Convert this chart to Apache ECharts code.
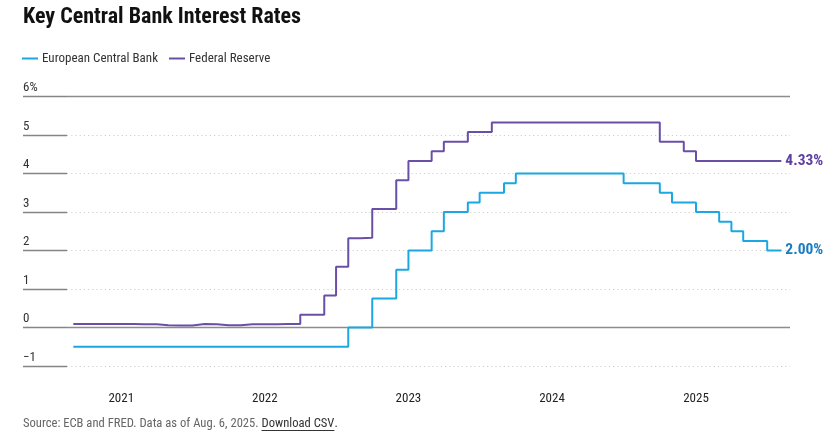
<!DOCTYPE html>
<html>
<head>
<meta charset="utf-8">
<script src="https://cdn.jsdelivr.net/npm/echarts@6/dist/echarts.min.js"></script>
<style>
html,body{margin:0;padding:0;background:#fff;}
#chart{width:839px;height:441px;}
</style>
</head>
<body>
<div id="chart"></div>
<script>
// ---- Data (first-of-month policy rates, %) ----
const months = [
  '2020-09-01','2020-10-01','2020-11-01','2020-12-01',
  '2021-01-01','2021-02-01','2021-03-01','2021-04-01','2021-05-01','2021-06-01','2021-07-01','2021-08-01','2021-09-01','2021-10-01','2021-11-01','2021-12-01',
  '2022-01-01','2022-02-01','2022-03-01','2022-04-01','2022-05-01','2022-06-01','2022-07-01','2022-08-01','2022-09-01','2022-10-01','2022-11-01','2022-12-01',
  '2023-01-01','2023-02-01','2023-03-01','2023-04-01','2023-05-01','2023-06-01','2023-07-01','2023-08-01','2023-09-01','2023-10-01','2023-11-01','2023-12-01',
  '2024-01-01','2024-02-01','2024-03-01','2024-04-01','2024-05-01','2024-06-01','2024-07-01','2024-08-01','2024-09-01','2024-10-01','2024-11-01','2024-12-01',
  '2025-01-01','2025-02-01','2025-03-01','2025-04-01','2025-05-01','2025-06-01','2025-07-01','2025-08-01','2025-08-06'
];
const ecbRates = [
  -0.5,-0.5,-0.5,-0.5,
  -0.5,-0.5,-0.5,-0.5,-0.5,-0.5,-0.5,-0.5,-0.5,-0.5,-0.5,-0.5,
  -0.5,-0.5,-0.5,-0.5,-0.5,-0.5,-0.5,0,0,0.75,0.75,1.5,
  2,2,2.5,3,3,3.25,3.5,3.5,3.75,4,4,4,
  4,4,4,4,4,4,3.75,3.75,3.75,3.5,3.25,3.25,
  3,3,2.75,2.5,2.25,2.25,2,2,2
];
const fedRates = [
  0.09,0.09,0.09,0.09,
  0.09,0.08,0.08,0.06,0.05,0.05,0.09,0.08,0.06,0.06,0.08,0.08,
  0.08,0.09,0.09,0.33,0.33,0.83,1.58,2.32,2.33,3.08,3.08,3.83,
  4.33,4.33,4.58,4.83,4.83,5.08,5.08,5.33,5.33,5.33,5.33,5.33,
  5.33,5.33,5.33,5.33,5.33,5.33,5.33,5.33,5.33,4.83,4.83,4.58,
  4.33,4.33,4.33,4.33,4.33,4.33,4.33,4.33,4.33
];
const seriesNames = ['European Central Bank','Federal Reserve'];
const yTickValues = [-1,0,1,2,3,4,5,6];
const yTickLabels = ['\u22121','0','1','2','3','4','5','6%'];
const xTickLabels = ['2021','2022','2023','2024','2025'];

// ---- Styles ----
const FONT = "'Liberation Sans Narrow','Roboto Condensed','DejaVu Sans Condensed','Liberation Sans',sans-serif";
const ECB_LINE = '#1ba8e2', ECB_LABEL = '#1a7cc0';
const FED_LINE = '#6a4fa7', FED_LABEL = '#5e3f9f';

const chart = echarts.init(document.getElementById('chart'), null, {renderer:'canvas'});

function measure(text, size, weight){
  const c = document.createElement('canvas').getContext('2d');
  c.font = (weight||'normal') + ' ' + size + 'px ' + FONT;
  return c.measureText(text).width;
}
const srcA = 'Source: ECB and FRED. Data as of Aug. 6, 2025. ';
const srcB = 'Download CSV';
const srcFont = 12.6;
const wA = measure(srcA, srcFont), wB = measure(srcB, srcFont);
const srcLeft = 23, srcTop = 417.5;

const gridTop = 96.7, gridBottom = 75.1;

const option = {
  animation: false,
  backgroundColor: '#fff',
  title: {
    text: 'Key Central Bank Interest Rates',
    left: 23, top: 6.5, padding: 0,
    textStyle: {fontFamily: FONT, fontWeight: 'bold', fontSize: 22, color: '#111'}
  },
  legend: {
    left: 22, top: 52, padding: 0, itemGap: 11,
    itemWidth: 16, itemHeight: 2, icon: 'rect',
    data: [{name: seriesNames[0], itemStyle:{color: ECB_LINE}}, {name: seriesNames[1], itemStyle:{color: FED_LINE}}],
    textStyle: {fontFamily: FONT, fontSize: 13, color: '#333', padding: [0,0,0,-1]}
  },
  grid: [
    {left: 23, width: 44, top: gridTop, bottom: gridBottom},
    {left: 67, right: 49, top: gridTop, bottom: gridBottom}
  ],
  xAxis: [
    {gridIndex: 0, type: 'value', min: 0, max: 1, show: false},
    {
      gridIndex: 1, type: 'time', min: '2020-08-16', max: '2025-08-28',
      minInterval: 365*24*3600*1000, maxInterval: 366*24*3600*1000,
      axisLine: {show: false}, axisTick: {show: false}, splitLine: {show: false},
      axisLabel: {
        margin: 26, fontFamily: FONT, fontSize: 13, color: '#222',
        hideOverlap: false,
        formatter: function(v){
          const d = new Date(v);
          const y = String(d.getFullYear());
          return (d.getMonth() === 0 && d.getDate() === 1 && xTickLabels.indexOf(y) >= 0) ? y : '';
        }
      }
    }
  ],
  yAxis: [
    {
      gridIndex: 0, type: 'value', min: -1, max: 6, interval: 1,
      axisLine: {show: false}, axisTick: {show: false},
      splitLine: {show: true, lineStyle: {color: '#858585', width: 1.4, type: 'solid'}},
      axisLabel: {
        inside: true, margin: 0, align: 'left', verticalAlign: 'bottom',
        padding: [0,0,2,0],
        fontFamily: FONT, fontSize: 13, color: '#333',
        formatter: function(v){ const i = yTickValues.indexOf(v); return i >= 0 ? yTickLabels[i] : ''; }
      }
    },
    {
      gridIndex: 1, type: 'value', min: -1, max: 6, interval: 1,
      axisLine: {show: false}, axisTick: {show: false}, axisLabel: {show: false},
      splitLine: {show: true, lineStyle: {color: '#cfcfcf', width: 1.2, type: [1.2, 3]}}
    }
  ],
  graphic: [
    {type: 'text', left: srcLeft, top: srcTop, silent: true,
      style: {text: srcA, font: srcFont + 'px ' + FONT, fill: '#666'}},
    {type: 'text', left: srcLeft + wA, top: srcTop, silent: true,
      style: {text: srcB, font: srcFont + 'px ' + FONT, fill: '#333'}},
    {type: 'text', left: srcLeft + wA + wB, top: srcTop, silent: true,
      style: {text: '.', font: srcFont + 'px ' + FONT, fill: '#333'}},
    {type: 'line', silent: true,
      shape: {x1: srcLeft + wA, y1: srcTop + 13, x2: srcLeft + wA + wB, y2: srcTop + 13},
      style: {stroke: '#333', lineWidth: 1}}
  ],
  series: [
    {
      name: seriesNames[0], type: 'line', xAxisIndex: 1, yAxisIndex: 1,
      step: 'end', symbol: 'none', z: 3,
      data: months.map((m, i) => [m, ecbRates[i]]),
      lineStyle: {color: ECB_LINE, width: 2},
      itemStyle: {color: ECB_LINE},
      endLabel: {
        show: true, distance: 4,
        formatter: p => p.value[1].toFixed(2) + '%',
        fontFamily: FONT, fontWeight: 'bold', fontSize: 15.5, color: ECB_LABEL
      },
      markLine: {
        silent: true, symbol: 'none', z: 1,
        label: {show: false},
        lineStyle: {color: '#8c8c8c', width: 1.3, type: 'solid'},
        emphasis: {disabled: true},
        data: [{yAxis: 0}, {yAxis: 6}]
      }
    },
    {
      name: seriesNames[1], type: 'line', xAxisIndex: 1, yAxisIndex: 1,
      step: 'end', symbol: 'none', z: 4,
      data: months.map((m, i) => [m, fedRates[i]]),
      lineStyle: {color: FED_LINE, width: 2},
      itemStyle: {color: FED_LINE},
      endLabel: {
        show: true, distance: 4,
        formatter: p => p.value[1].toFixed(2) + '%',
        fontFamily: FONT, fontWeight: 'bold', fontSize: 15.5, color: FED_LABEL
      }
    }
  ]
};
chart.setOption(option);
</script>
</body>
</html>
